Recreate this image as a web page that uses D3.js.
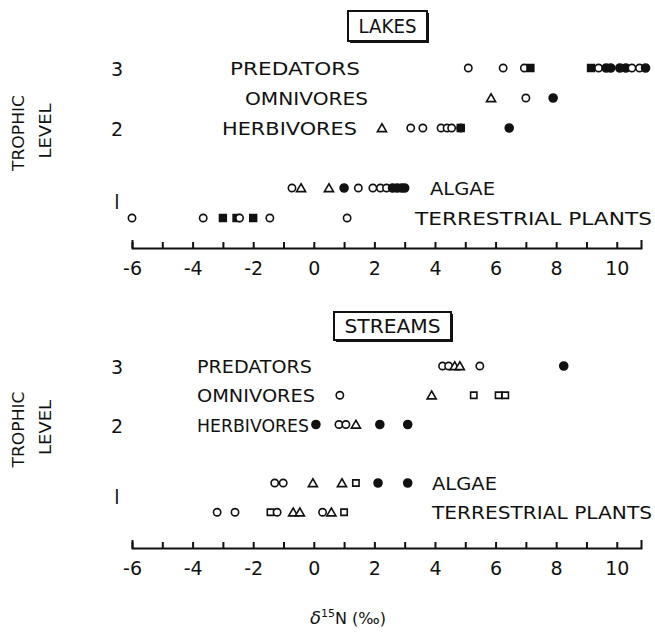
<!DOCTYPE html>
<html lang="en">
<head>
  <meta charset="utf-8">
  <title>Trophic level vs d15N</title>
  <script src="https://d3js.org/d3.v7.min.js"></script>
  <style>
    body { margin: 0; background: #fff; }
    .lbl { font-family: 'DejaVu Sans', sans-serif; font-size: 17px; fill: #111; }
    .num { font-family: 'DejaVu Sans', sans-serif; font-size: 19px; fill: #111; }
    .axis text { font-family: 'DejaVu Sans', sans-serif; font-size: 19px; fill: #111; }
    .axis path, .axis line { stroke: #111; stroke-width: 2px; }
  </style>
</head>
<body>
<div id="chart"></div>
<script>

  // symbols: o open circle, c filled circle, s filled square, q open square, t open triangle
  var rowNames = ['PREDATORS', 'OMNIVORES', 'HERBIVORES', 'ALGAE', 'TERRESTRIAL PLANTS'];
  var rowLevels = [3, 2.5, 2, 1, 0.5];
  var trophicTicks = [3, 2, 1];

  var lakesPredators = [[5.1,'o'], [6.25,'o'], [6.95,'o'], [7.15,'s'], [9.15,'s'], [9.4,'o'], [9.65,'c'],
                        [9.8,'c'], [10.1,'c'], [10.3,'c'], [10.5,'o'], [10.75,'o'], [10.95,'c']];
  var lakesOmnivores = [[5.85,'t'], [7.0,'o'], [7.9,'c']];
  var lakesHerbivores = [[2.25,'t'], [3.2,'o'], [3.6,'o'], [4.2,'o'], [4.4,'o'], [4.55,'o'], [4.85,'o'], [4.85,'s'], [6.45,'c']];
  var lakesAlgae = [[-0.72,'o'], [-0.42,'t'], [0.5,'t'], [1.0,'c'], [1.47,'o'], [1.95,'o'], [2.2,'o'], [2.4,'o'],
                    [2.6,'c'], [2.75,'c'], [2.9,'c'], [3.0,'c']];
  var lakesTerrestrial = [[-6.0,'o'], [-3.65,'o'], [-3.0,'s'], [-2.55,'s'], [-2.45,'o'], [-2.0,'s'], [-1.45,'o'], [1.1,'o']];

  var streamsPredators = [[4.25,'o'], [4.45,'o'], [4.65,'t'], [4.82,'t'], [5.48,'o'], [8.25,'c']];
  var streamsOmnivores = [[0.86,'o'], [3.89,'t'], [5.28,'q'], [6.1,'q'], [6.32,'q']];
  var streamsHerbivores = [[0.07,'c'], [0.83,'o'], [1.06,'o'], [1.39,'t'], [2.18,'c'], [3.1,'c']];
  var streamsAlgae = [[-1.29,'o'], [-1.01,'o'], [-0.03,'t'], [0.93,'t'], [1.39,'q'], [2.12,'c'], [3.1,'c']];
  var streamsTerrestrial = [[-3.19,'o'], [-2.6,'o'], [-1.43,'q'], [-1.21,'o'], [-0.68,'t'], [-0.46,'t'],
                            [0.29,'o'], [0.58,'t'], [1.0,'q']];

  var xTicks = d3.range(-6, 11);
  var xDomain = [-6, 10.8];

  var width = 655, height = 636;

  var svg = d3.select('#chart').append('svg')
              .attr('width', width)
              .attr('height', height);

  var xScale = d3.scaleLinear().domain(xDomain).range([132, 641]);

  var panels = [
    { title: 'LAKES', box: [348, 11, 79, 30], y0: 68, step: 60, axisY: 248, titleLen: 58,
      labelX: [230, 245, 222, 430, 415], labelLen: [130, 123, 135, 65, 237],
      data: [lakesPredators, lakesOmnivores, lakesHerbivores, lakesAlgae, lakesTerrestrial] },
    { title: 'STREAMS', box: [334, 312, 117, 28], y0: 366, step: 58.5, axisY: 548, titleLen: 96,
      labelX: [197, 197, 197, 432, 432], labelLen: [115, 118, 112, 65, 220],
      data: [streamsPredators, streamsOmnivores, streamsHerbivores, streamsAlgae, streamsTerrestrial] }
  ];

  var symbolFor = {
    o: d3.symbol().type(d3.symbolCircle).size(42),
    c: d3.symbol().type(d3.symbolCircle).size(50),
    s: d3.symbol().type(d3.symbolSquare).size(46),
    q: d3.symbol().type(d3.symbolSquare).size(40),
    t: d3.symbol().type(d3.symbolTriangle).size(36)
  };

  panels.forEach(function(p) {

    var yScale = d3.scaleLinear().domain([3, 0]).range([p.y0, p.y0 + 3 * p.step]);
    var g = svg.append('g');

    // title box with heavy shadow on right and bottom
    var b = p.box;
    g.append('rect')
     .attr('x', b[0] + 2).attr('y', b[1] + 2).attr('width', b[2]).attr('height', b[3])
     .attr('fill', '#111');
    g.append('rect')
     .attr('x', b[0]).attr('y', b[1]).attr('width', b[2]).attr('height', b[3])
     .attr('fill', '#fff').attr('stroke', '#111').attr('stroke-width', 2);
    g.append('text')
     .attr('class', 'lbl')
     .attr('x', b[0] + b[2] / 2)
     .attr('y', b[1] + b[3] / 2 + 7)
     .attr('text-anchor', 'middle')
     .attr('textLength', p.titleLen)
     .attr('lengthAdjust', 'spacingAndGlyphs')
     .style('font-size', '19px')
     .text(p.title);

    // trophic level label
    var midY = yScale(2);
    ['TROPHIC', 'LEVEL'].forEach(function(t, i) {
      g.append('text')
       .attr('class', 'lbl')
       .attr('transform', 'translate(' + (24 + i * 27) + ',' + (midY + 5 - i * 2) + ') rotate(-90)')
       .attr('text-anchor', 'middle')
       .attr('textLength', i == 0 ? 76 : 55)
       .attr('lengthAdjust', 'spacingAndGlyphs')
       .style('font-size', '15px')
       .text(t);
    });

    trophicTicks.forEach(function(t) {
      var lv = t == 1 ? 0.78 : t;
      g.append('text')
       .attr('class', 'num')
       .attr('x', 117)
       .attr('y', yScale(lv) + 8)
       .attr('text-anchor', 'middle')
       .text(t == 1 ? 'l' : t);
    });

    // row labels
    rowNames.forEach(function(name, i) {
      g.append('text')
       .attr('class', 'lbl')
       .attr('x', p.labelX[i])
       .attr('y', yScale(rowLevels[i]) + 7)
       .attr('textLength', p.labelLen[i])
       .attr('lengthAdjust', 'spacingAndGlyphs')
       .text(name);
    });

    // points
    p.data.forEach(function(row, i) {
      g.selectAll(null)
       .data(row)
       .enter()
       .append('path')
       .attr('d', function(d) { return symbolFor[d[1]](); })
       .attr('transform', function(d) {
         var dy = d[1] == 't' ? 1 : 0;
         return 'translate(' + xScale(d[0]) + ',' + (yScale(rowLevels[i]) + dy) + ')';
       })
       .attr('fill', function(d) { return (d[1] == 'c' || d[1] == 's') ? '#111' : '#fff'; })
       .attr('stroke', '#111')
       .attr('stroke-width', 1.6);
    });

    // x axis, ticks pointing up
    var xAxis = d3.axisBottom(xScale)
                  .tickValues(xTicks)
                  .tickSizeInner(-6)
                  .tickSizeOuter(-8)
                  .tickPadding(14)
                  .tickFormat(function(d) { return d % 2 == 0 ? String(d) : ''; });

    g.append('g')
     .attr('class', 'axis')
     .attr('transform', 'translate(0,' + p.axisY + ')')
     .call(xAxis);
  });

  // x axis title
  var xt = svg.append('text')
              .attr('class', 'lbl')
              .attr('x', 348)
              .attr('y', 624)
              .attr('text-anchor', 'middle');
  xt.append('tspan').style('font-style', 'italic').style('font-size', '18px').text('δ');
  xt.append('tspan').attr('dy', -7).style('font-size', '11px').text('15');
  xt.append('tspan').attr('dy', 7).style('font-size', '16px').text('N (‰)');

</script>
</body>
</html>
